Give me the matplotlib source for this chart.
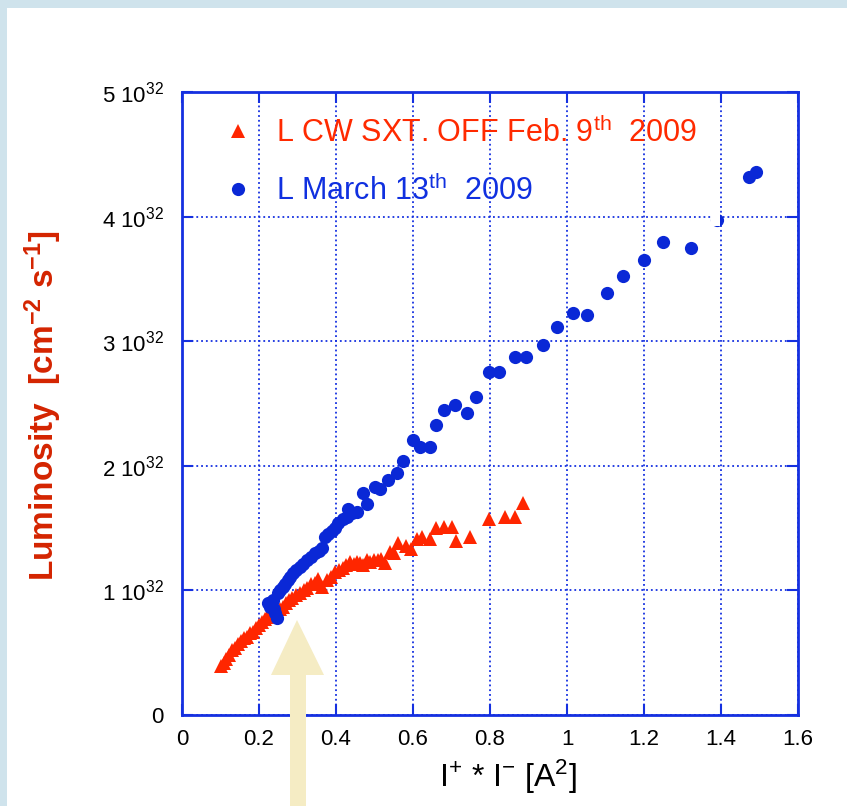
import numpy as np
import matplotlib
matplotlib.use("Agg")
import matplotlib.pyplot as plt
from matplotlib.patches import Polygon, Rectangle
from matplotlib.ticker import FuncFormatter

plt.rcParams['font.family'] = ['Liberation Sans', 'DejaVu Sans']
plt.rcParams['mathtext.default'] = 'regular'

# data: I+ * I- [A^2] vs luminosity [1e32 cm^-2 s^-1]
red_x = [0.100, 0.108, 0.115, 0.122, 0.130, 0.138, 0.145, 0.152, 0.160, 0.168,
         0.176, 0.185, 0.193, 0.200, 0.208, 0.215, 0.222, 0.230, 0.238, 0.246,
         0.254, 0.262, 0.270, 0.278, 0.286, 0.295, 0.306, 0.316, 0.325, 0.335,
         0.345, 0.353, 0.364, 0.376, 0.386, 0.397, 0.408, 0.418, 0.427, 0.436,
         0.446, 0.455, 0.463, 0.470, 0.480, 0.488, 0.498, 0.509, 0.518, 0.527,
         0.540, 0.551, 0.561, 0.582, 0.594, 0.610, 0.623, 0.644, 0.659, 0.680,
         0.701, 0.712, 0.748, 0.797, 0.839, 0.865, 0.886]
red_y = [0.39, 0.42, 0.45, 0.48, 0.52, 0.54, 0.57, 0.59, 0.62, 0.63,
         0.66, 0.67, 0.70, 0.72, 0.75, 0.77, 0.79, 0.81, 0.83, 0.82,
         0.85, 0.87, 0.90, 0.92, 0.94, 0.96, 0.98, 1.00, 1.02, 1.05,
         1.06, 1.09, 1.03, 1.08, 1.11, 1.15, 1.16, 1.18, 1.20, 1.23,
         1.21, 1.23, 1.22, 1.20, 1.24, 1.23, 1.24, 1.24, 1.25, 1.22,
         1.31, 1.30, 1.38, 1.36, 1.33, 1.41, 1.43, 1.41, 1.50, 1.51,
         1.51, 1.40, 1.43, 1.57, 1.59, 1.59, 1.70]

blue_x = [0.224, 0.229, 0.236, 0.242, 0.246, 0.240, 0.249, 0.255, 0.262, 0.268,
          0.275, 0.281, 0.288, 0.297, 0.306, 0.315, 0.325, 0.335, 0.345, 0.355,
          0.364, 0.371, 0.380, 0.390, 0.397, 0.405, 0.418, 0.428, 0.431, 0.442,
          0.455, 0.470, 0.481, 0.501, 0.514, 0.535, 0.558, 0.575, 0.601, 0.618,
          0.645, 0.659, 0.681, 0.709, 0.740, 0.763, 0.797, 0.824, 0.865, 0.893,
          0.938, 0.974, 1.016, 1.052, 1.104, 1.145, 1.200, 1.249, 1.322, 1.390,
          1.473, 1.491]
blue_y = [0.90, 0.87, 0.92, 0.82, 0.78, 0.85, 0.98, 1.00, 1.03, 1.05,
          1.08, 1.11, 1.14, 1.16, 1.19, 1.21, 1.24, 1.27, 1.30, 1.32,
          1.34, 1.43, 1.45, 1.48, 1.50, 1.54, 1.57, 1.59, 1.65, 1.62,
          1.63, 1.78, 1.69, 1.83, 1.81, 1.89, 1.94, 2.04, 2.21, 2.15,
          2.15, 2.33, 2.45, 2.49, 2.42, 2.55, 2.75, 2.75, 2.87, 2.87,
          2.97, 3.11, 3.23, 3.21, 3.39, 3.52, 3.65, 3.80, 3.75, 3.97,
          4.32, 4.36]

red_label = r'L CW SXT. OFF Feb. 9$^{th}$  2009'
blue_label = r'L March 13$^{th}$  2009'

W, H = 847, 806
fig = plt.figure(figsize=(W / 100, H / 100), dpi=100)
fig.patch.set_facecolor('#cfe3ec')
# white panel (light blue border only top/left)
fig.patches.append(Rectangle((7 / W, 0), 1, 1 - 8 / H, transform=fig.transFigure,
                             facecolor='white', edgecolor='none', zorder=-10))

ax = fig.add_axes([182 / W, 1 - 715 / H, 616 / W, 623 / H])
blue = '#1530e0'
ax.plot(red_x, red_y, '^', color='#ff2600', markersize=10.5, markeredgewidth=0,
        label=red_label, clip_on=False)
ax.plot(blue_x, blue_y, 'o', color='#0a28d6', markersize=9.5, markeredgewidth=0,
        label=blue_label, clip_on=False)

ax.set_xlim(0, 1.6)
ax.set_ylim(0, 5)
ax.set_xticks(np.arange(0, 1.61, 0.2))
ax.set_yticks(range(6))
ax.xaxis.set_major_formatter(FuncFormatter(lambda v, p: '0' if v == 0 else '%g' % v))
ax.yaxis.set_major_formatter(FuncFormatter(lambda v, p: '0' if v == 0 else r'%d 10$^{32}$' % v))
ax.tick_params(direction='in', length=8, width=1.5, color=blue, labelsize=16,
               top=True, right=True)
ax.tick_params(axis='y', pad=13)
ax.tick_params(axis='x', pad=10)
for s in ax.spines.values():
    s.set_color(blue)
    s.set_linewidth(2)
ax.grid(True, color=blue, linestyle=':', linewidth=1.3)

ax.set_xlabel(r'I$^{+}$ * I$^{-}$ [A$^{2}$]', fontsize=23)
ax.xaxis.set_label_coords(0.529, -0.068)
ax.set_ylabel(r'Luminosity  [cm$^{-2}$ s$^{-1}$]', fontsize=24, fontweight='bold',
              color='#d42400')
ax.yaxis.set_label_coords(-0.192, 0.496)

leg = ax.legend(loc='upper left', bbox_to_anchor=(0.066, 0.96), frameon=False,
                fontsize=22, handlelength=1.0, handletextpad=0.75, borderpad=0,
                borderaxespad=0, labelspacing=0.85, markerscale=1.0)
leg.get_texts()[0].set_color('#ff2a00')
leg.get_texts()[1].set_color('#1030e0')

# small white patch over the point near 1.39
fig.patches.append(Rectangle((711 / W, 1 - 226 / H), 9 / W, 13 / H, transform=fig.transFigure,
                             facecolor='white', edgecolor='none', zorder=5))

# beige arrow pointing up
arrow = [(290, 806), (290, 675), (271, 675), (297, 620), (324, 675), (306, 675), (306, 806)]
fig.patches.append(Polygon([(x / W, 1 - y / H) for x, y in arrow], closed=True,
                           transform=fig.transFigure, facecolor='#f5ecc4',
                           edgecolor='none', zorder=6))

plt.savefig('out.png', dpi=100, facecolor=fig.get_facecolor())
